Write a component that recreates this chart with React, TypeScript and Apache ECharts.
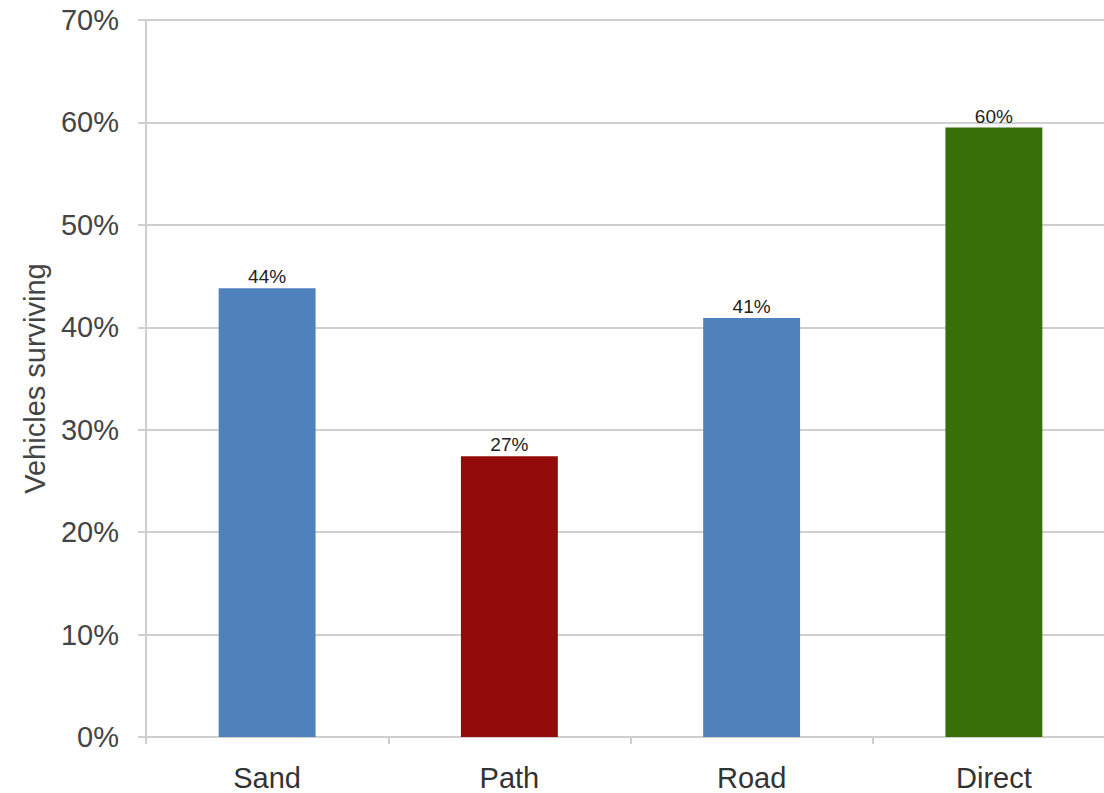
import React, { useEffect, useRef } from "react";
import * as echarts from "echarts";

const categories = ["Sand", "Path", "Road", "Direct"];
const values = [0.438, 0.274, 0.409, 0.595];
const barColors = ["#4F81BD", "#930B0B", "#377009"];
const colorIndex = [0, 1, 0, 2];

const FONT = "Liberation Sans, Arial, sans-serif";

export default function App() {
  const ref = useRef<HTMLDivElement>(null);
  useEffect(() => {
    if (!ref.current) return;
    const chart = echarts.init(ref.current, undefined, { renderer: "svg" });
    chart.setOption({
      animation: false,
      grid: { left: 146, top: 20, bottom: 56, right: 0, containLabel: false },
      xAxis: {
        type: "category",
        data: categories,
        axisLine: { lineStyle: { color: "#cfcfcf", width: 2 } },
        axisTick: { show: true, length: 7, lineStyle: { color: "#cfcfcf", width: 2 } },
        axisLabel: { color: "#333", fontSize: 29, fontFamily: FONT, margin: 26 },
      },
      yAxis: {
        type: "value",
        min: 0,
        max: 0.7,
        interval: 0.1,
        name: "Vehicles surviving",
        nameLocation: "middle",
        nameRotate: 90,
        nameGap: 97,
        nameTextStyle: { color: "#444", fontSize: 29, fontFamily: FONT },
        axisLine: { show: true, lineStyle: { color: "#cfcfcf", width: 2 } },
        axisTick: { show: true, length: 8, lineStyle: { color: "#cfcfcf", width: 2 } },
        splitLine: { lineStyle: { color: "#cfcfcf", width: 2 } },
        axisLabel: {
          color: "#444",
          fontSize: 29,
          fontFamily: FONT,
          margin: 27,
          formatter: (v: number) => Math.round(v * 100) + "%",
        },
      },
      series: [
        {
          type: "bar",
          barWidth: "40%",
          data: values.map((v, i) => ({ value: v, itemStyle: { color: barColors[colorIndex[i]] } })),
          label: {
            show: true,
            position: "top",
            distance: 2,
            color: "#222",
            fontSize: 19,
            fontFamily: FONT,
            formatter: (p: any) => Math.round(p.value * 100) + "%",
          },
        },
      ],
    });
    return () => chart.dispose();
  }, []);
  return (
    <div style={{ position: "absolute", left: 0, top: 0, width: 1104, height: 793, overflow: "hidden" }}>
      <div ref={ref} style={{ width: 1115, height: 793 }} />
    </div>
  );
}
